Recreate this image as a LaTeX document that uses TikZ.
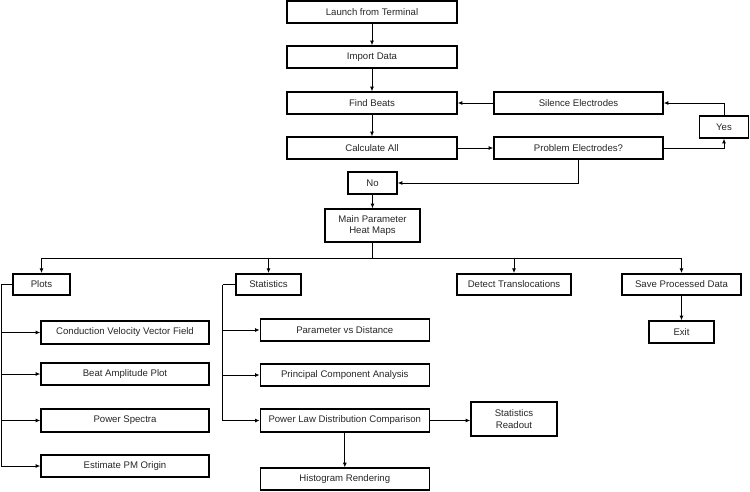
\documentclass[tikz,border=0pt]{standalone}
\usepackage{fontspec}
\setmainfont{Liberation Sans}
\usetikzlibrary{arrows.meta}
\begin{document}
\begin{tikzpicture}[x=1pt,y=-1pt,
  box/.style={draw=black, line width=1.6pt, inner sep=0pt, align=center, minimum height=22pt,
    font=\fontsize{9.6}{11.5}\selectfont, text=black!85},
  conn/.style={draw=black, line width=0.8pt},
  arr/.style={conn, -{Latex[length=4.5pt,width=4pt]}}]
\useasboundingbox (0,0) rectangle (750,491);
% top chain
\node[box, minimum width=170pt] (launch) at (372,12) {Launch from Terminal};
\node[box, minimum width=170pt] (import) at (372,57) {Import Data};
\node[box, minimum width=170pt] (find) at (372,103) {Find Beats};
\node[box, minimum width=170pt] (calc) at (372,148) {Calculate All};
\node[box, minimum width=169pt] (silence) at (578.5,103) {Silence Electrodes};
\node[box, minimum width=169pt] (problem) at (578.5,148) {Problem Electrodes?};
\node[box, minimum width=49pt] (yes) at (724,127) {Yes};
\node[box, minimum width=49pt] (no) at (372.5,183) {No};
\node[box, minimum width=95pt, minimum height=33pt] (main) at (372.5,225.5) {Main Parameter\\Heat Maps};
% second level
\node[box, minimum width=57pt, minimum height=21.5pt] (plots) at (41.5,284.5) {Plots};
\node[box, minimum width=65pt, minimum height=21.5pt] (stats) at (268.5,284.5) {Statistics};
\node[box, minimum width=114pt, minimum height=21.5pt] (detect) at (514,284.5) {Detect Translocations};
\node[box, minimum width=119pt, minimum height=21.5pt] (save) at (681.5,284.5) {Save Processed Data};
\node[box, minimum width=65pt] (exit) at (681.5,332) {Exit};
% plots children
\node[box, minimum width=168pt, minimum height=22.5pt] (cv) at (125,332.5) {Conduction Velocity Vector Field};
\node[box, minimum width=168pt, minimum height=22.5pt] (beat) at (125,374) {Beat Amplitude Plot};
\node[box, minimum width=168pt, minimum height=22.5pt] (ps) at (125,420.5) {Power Spectra};
\node[box, minimum width=168pt, minimum height=22.5pt] (est) at (125,466) {Estimate PM Origin};
% stats children
\node[box, minimum width=169pt] (pvd) at (344.8,330) {Parameter vs Distance};
\node[box, minimum width=169pt] (pca) at (344.8,375) {Principal Component Analysis};
\node[box, minimum width=169pt, minimum height=22.5pt] (plaw) at (344.8,420.5) {Power Law Distribution Comparison};
\node[box, minimum width=169pt] (hist) at (344.8,479) {Histogram Rendering};
\node[box, minimum width=86pt, minimum height=34pt] (readout) at (514,419) {Statistics\\Readout};
% coordinates
\coordinate (bus) at (372.5,258.3);
\coordinate (plx) at (1,284.5);
\coordinate (stx) at (222.7,284.5);
% connectors
\draw[arr] (launch) -- (import);
\draw[arr] (import) -- (find);
\draw[arr] (find) -- (calc);
\draw[arr] (silence) -- (find);
\draw[arr] (calc) -- (problem);
\draw[arr] (problem.east) -| (yes.south);
\draw[arr] (yes.north) |- (silence.east);
\draw[arr] (problem.south) |- (no.east);
\draw[arr] (no) -- (main);
\draw[conn] (main.south) -- (bus);
\draw[arr] (bus) -| (plots.north);
\draw[arr] (bus) -| (stats.north);
\draw[arr] (bus) -| (detect.north);
\draw[arr] (bus) -| (save.north);
\draw[arr] (save) -- (exit);
\draw[conn] (plots.west) -- (plx);
\foreach \n in {cv,beat,ps,est} \draw[arr] (plx) |- (\n.west);
\draw[conn] (stats.west) -- (stx);
\foreach \n in {pvd,pca,plaw} \draw[arr] (stx) |- (\n.west);
\draw[arr] (plaw) -- (hist);
\draw[arr] (plaw.east) -- (readout.west |- plaw.east);
\end{tikzpicture}
\end{document}
